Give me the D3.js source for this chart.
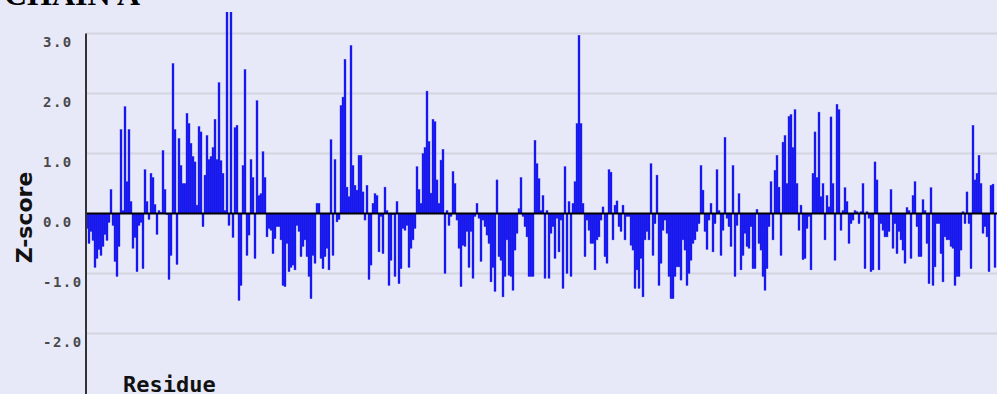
<!DOCTYPE html>
<html>
<head>
<meta charset="utf-8">
<script src="https://cdn.jsdelivr.net/npm/d3@7"></script>
<style>
  html, body { margin: 0; padding: 0; background: #e7e9f9; overflow: hidden; }
  svg { display: block; }
</style>
</head>
<body>
<svg id="chart" width="997" height="394"></svg>
<script>
// Per-residue Z-scores for chain A
const chainTitle = "CHAIN A";
const zScores = [
  -0.25,-0.5,-0.3,-0.45,-0.9,-0.75,-0.6,-0.7,-0.55,-0.35,
  -0.45,-0.15,0.4,-0.2,-0.8,-1.05,-0.55,1.4,0.05,1.78,
  0.53,1.4,0.2,-0.58,-0.4,-0.97,-0.2,-0.15,-0.92,0.73,
  0.2,-0.1,0.67,0.6,0.15,-0.35,0.05,0.02,1.05,0.4,
  -0.02,-1.1,-0.7,2.5,1.4,-0.85,1.25,0.8,0.5,0.5,
  1.67,1.5,1.17,0.95,0.86,0.14,1.45,1.36,-0.22,0.64,
  1.3,0.9,0.95,1.1,1.57,0.9,2.18,0.88,0.67,0.05,
  3.5,-0.2,3.5,-0.4,1.43,1.47,-1.45,-1.2,0.8,2.4,
  -0.7,-0.36,0.9,0.6,-0.75,1.88,0.3,0.33,1.03,0.6,
  -0.39,-0.25,-0.28,-0.67,-0.42,-0.22,-0.22,-0.44,-1.2,-1.22,
  -0.5,-0.97,-0.9,-0.86,-0.94,-0.2,-0.3,-0.72,-0.55,-0.44,
  -0.72,-1.05,-1.42,-0.7,-0.83,0.17,0.17,-0.75,-0.92,-0.72,
  -0.58,-0.94,1.23,-0.7,0.9,-0.14,-0.1,1.8,1.94,2.57,
  0.44,0.28,2.8,0.8,0.47,0.39,0.97,0.97,0.36,-0.11,
  0.47,-1.1,-0.86,0.17,0.33,0.3,-0.64,-0.05,-0.67,0.44,
  0.05,-1.2,-0.78,-0.02,-1.05,0.2,-1.17,-0.92,-0.25,-0.28,
  -0.2,-0.9,-0.58,-0.44,-0.25,0.78,0.4,0.17,1.0,1.1,
  2.04,1.2,0.34,1.57,1.53,0.56,0.17,0.89,1.07,-1.0,
  0.05,-0.2,-0.05,0.7,0.5,-0.11,-0.58,-1.22,-0.53,-0.55,
  -0.3,-0.9,-0.3,-1.08,-0.05,0.17,-0.08,-0.8,-0.11,-0.22,
  -0.36,-0.5,-1.14,-0.9,-1.3,0.56,-0.72,-0.78,-1.39,-1.05,
  -0.44,-1.03,-1.05,-1.28,-0.61,-0.33,0.08,0.6,-0.05,-0.22,
  -0.39,-1.05,-1.05,-1.05,1.22,0.83,0.58,0.05,0.3,-1.08,
  0.05,-1.08,-0.33,-0.22,-0.75,-0.08,-0.64,-0.11,-1.25,0.78,
  -1.0,0.2,-1.05,0.17,0.53,1.5,2.97,1.5,0.17,-0.72,
  -0.11,-0.28,-0.5,-0.5,-0.94,-0.44,-0.39,-0.11,0.11,-0.72,
  -0.83,0.73,0.69,-0.44,0.14,0.21,-0.22,-0.3,0.14,-0.44,
  -0.05,-0.05,-0.53,-0.61,-1.25,-0.94,-1.25,-0.75,-1.39,-0.44,
  -0.3,-0.44,0.83,-0.7,-0.17,0.64,-1.2,-0.83,-0.28,-0.11,
  -0.33,-1.05,-1.42,-1.42,-1.05,-0.89,-0.89,-1.11,-0.44,-0.61,
  -1.2,-1.0,-0.78,-0.5,-0.44,-0.3,-0.17,0.8,0.39,-0.3,
  -0.6,-0.11,0.17,-0.64,-0.17,0.73,0.05,-0.7,-0.28,1.27,
  -0.08,-0.22,-0.55,0.8,-1.05,-0.2,0.33,-0.94,-0.7,-0.33,
  -0.55,-0.58,-0.22,-0.92,-0.92,0.07,-0.5,-0.61,-1.05,-1.28,
  -0.92,-0.22,0.53,-0.44,0.72,0.97,0.44,-0.7,1.19,1.3,
  0.5,1.62,1.65,1.1,1.73,0.5,-0.28,0.14,-0.77,-0.75,
  -0.25,-0.05,-0.94,0.67,1.36,0.6,1.69,0.28,0.5,-0.44,
  0.3,0.11,1.61,0.5,-0.78,1.82,1.73,-0.28,0.05,0.43,
  0.2,-0.5,-0.17,-0.11,0.05,0.03,-0.17,0.03,0.5,-0.92,
  0.03,-0.08,-0.97,-0.94,0.86,0.56,-0.94,-0.17,-0.28,-0.39,
  -0.39,-0.3,0.4,-0.58,-0.17,-0.67,-0.3,-0.44,-0.61,-0.83,
  0.1,0.05,-0.75,0.3,0.53,-0.22,-0.72,-0.72,0.23,0.05,
  -0.5,-1.17,0.43,-1.2,-0.89,-0.17,-0.17,-0.67,-1.14,-0.39,
  -0.44,-0.44,-0.55,-0.58,-1.2,-1.05,-1.05,-0.61,0.03,-0.17,
  0.36,-0.17,-0.92,1.47,0.56,0.67,0.97,0.5,-0.33,-0.22,
  -0.39,-0.97,0.47,0.49,-0.9
];
const firstResidue = 1;
const residues = zScores.map((_, i) => firstResidue + i);
const gridValues = [-2, -1, 1, 2, 3];
const tickValues = [3, 2, 1, 0, -1, -2];
const tickLabels = ["3.0", "2.0", "1.0", "0.0", "-1.0", "-2.0"];

const svg = d3.select("#chart");
const W = 997, H = 394;
const left = 86, plotTop = 12;

const x = d3.scaleBand()
  .domain(residues)
  .range([left, left + residues.length * 2])
  .padding(0);

const y = d3.scaleLinear()
  .domain([-3, 3])
  .range([393.5, 33.5]);

svg.append("rect").attr("width", W).attr("height", H).attr("fill", "#e7e9f9");

svg.append("defs").append("clipPath").attr("id", "plotClip")
  .append("rect")
  .attr("x", left).attr("y", plotTop)
  .attr("width", W - left).attr("height", H - plotTop);

// horizontal grid
svg.append("g")
  .selectAll("line")
  .data(gridValues)
  .join("line")
  .attr("x1", left).attr("x2", W)
  .attr("y1", d => y(d)).attr("y2", d => y(d))
  .attr("stroke", "#d5d5df")
  .attr("stroke-width", 2);

// bars
svg.append("g")
  .attr("clip-path", "url(#plotClip)")
  .selectAll("rect")
  .data(zScores)
  .join("rect")
  .attr("x", (d, i) => x(residues[i]))
  .attr("width", x.bandwidth())
  .attr("y", d => y(Math.max(0, d)))
  .attr("height", d => Math.abs(y(d) - y(0)))
  .attr("fill", "#1010f2")
  .attr("stroke", "#3a3ae6")
  .attr("stroke-width", 0.4);

// zero line
svg.append("line")
  .attr("x1", left).attr("x2", W)
  .attr("y1", y(0)).attr("y2", y(0))
  .attr("stroke", "#000")
  .attr("stroke-width", 2);

// y axis
const yAxis = d3.axisLeft(y)
  .tickValues(tickValues)
  .tickSize(0)
  .tickFormat((d, i) => tickLabels[i]);

const axisG = svg.append("g")
  .attr("transform", `translate(${left},0)`)
  .call(yAxis);

axisG.select(".domain").remove();
axisG.selectAll(".tick text")
  .attr("x", -43)
  .attr("dy", "0.9em")
  .attr("text-anchor", "start")
  .attr("fill", "#4a4a4a")
  .style("font-family", "'DejaVu Sans Mono', monospace")
  .style("font-weight", "bold")
  .style("font-size", "14px")
  .style("letter-spacing", "1.5px");

svg.append("line")
  .attr("x1", left).attr("x2", left)
  .attr("y1", y(3)).attr("y2", H)
  .attr("stroke", "#333")
  .attr("stroke-width", 2);

// titles
svg.append("text")
  .attr("x", 4).attr("y", 5)
  .attr("fill", "#000")
  .style("font-family", "'Liberation Serif', serif")
  .style("font-weight", "bold")
  .style("font-size", "32px")
  .text(chainTitle);

svg.append("text")
  .attr("transform", `translate(32,${y(0) + 4}) rotate(-90)`)
  .attr("text-anchor", "middle")
  .attr("fill", "#111")
  .style("font-family", "'DejaVu Sans', sans-serif")
  .style("font-weight", "bold")
  .style("font-size", "22px")
  .text("Z-score");

svg.append("text")
  .attr("x", 123).attr("y", 392)
  .attr("fill", "#111")
  .style("font-family", "'DejaVu Sans Mono', monospace")
  .style("font-weight", "bold")
  .style("font-size", "22px")
  .text("Residue");
</script>
</body>
</html>
